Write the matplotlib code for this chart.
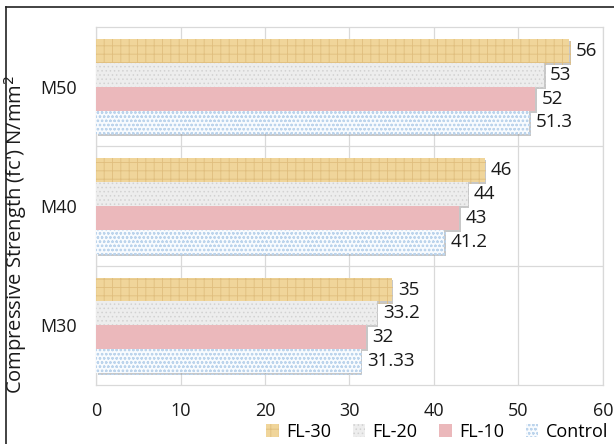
import matplotlib
matplotlib.use("Agg")
import matplotlib.pyplot as plt
import matplotlib.patheffects as pe
from matplotlib.lines import Line2D
import numpy as np

FONT = "Open Sans"

categories = ["M30", "M40", "M50"]
series = ["FL-30", "FL-20", "FL-10", "Control"]
fl30 = [35, 46, 56]
fl20 = [33.2, 44, 53]
fl10 = [32, 43, 52]
control = [31.33, 41.2, 51.3]
label_text = {
    "FL-30": ["35", "46", "56"],
    "FL-20": ["33.2", "44", "53"],
    "FL-10": ["32", "43", "52"],
    "Control": ["31.33", "41.2", "51.3"],
}
xticks = [0, 10, 20, 30, 40, 50, 60]

STYLE = {
    "FL-30": dict(face="#F0D59A", hatch_color="#E0BE7E", hatch="++"),
    "FL-20": dict(face="#EDEDED", hatch_color="#D2D2D2", hatch="...."),
    "FL-10": dict(face="#EBB8BB", hatch_color="#E3AAAE", hatch=None),
    "Control": dict(face="#F8FBFE", hatch_color="#BCD4EC", hatch="oooo"),
}
OFFSETS = {"FL-30": 0.3, "FL-20": 0.1, "FL-10": -0.1, "Control": -0.3}
GRID = "#D9D9D9"
INK = "#1A1A1A"


def main():
    plt.rcParams["font.family"] = FONT
    plt.rcParams["hatch.linewidth"] = 0.6

    fig = plt.figure(figsize=(6.14, 4.44), dpi=100)
    ax = fig.add_axes([96 / 614, 1 - 385 / 444, (603 - 96) / 614, (385 - 27) / 444])

    values = {"FL-30": fl30, "FL-20": fl20, "FL-10": fl10, "Control": control}
    y = np.arange(len(categories))
    shadow = [pe.SimplePatchShadow(offset=(1.2, -1.5), shadow_rgbFace="#9A9A9A", alpha=0.55), pe.Normal()]

    for name in series:
        st = STYLE[name]
        bars = ax.barh(
            y + OFFSETS[name],
            values[name],
            height=0.2,
            color=st["face"],
            edgecolor=st["hatch_color"],
            linewidth=0,
            hatch=st["hatch"],
            label=name,
            zorder=3,
        )
        for b in bars:
            b.set_path_effects(shadow)
        ax.bar_label(bars, labels=label_text[name], padding=4.5, fontsize=13.5, color=INK)

    ax.set_xlim(0, 60)
    ax.set_ylim(-0.5, 2.5)
    ax.set_xticks(xticks)
    ax.set_yticks(y)
    ax.set_yticklabels(categories)
    ax.tick_params(axis="both", length=0, labelsize=13, colors=INK)
    ax.tick_params(axis="x", pad=12)
    ax.tick_params(axis="y", pad=14)

    ax.grid(axis="x", color=GRID, linewidth=0.9, zorder=0)
    for b in [0.5, 1.5]:
        ax.axhline(b, color=GRID, linewidth=0.9, zorder=0)
    for s in ax.spines.values():
        s.set_color(GRID)
        s.set_linewidth(0.9)

    ax.set_ylabel("Compressive Strength (fc') N/mm$^2$", fontsize=14.5, color=INK)
    ax.yaxis.set_label_coords(-0.132, 0.42)

    handles, labels = ax.get_legend_handles_labels()
    leg = fig.legend(
        handles, labels, ncol=4, loc="center right", bbox_to_anchor=(608 / 614, 1 - 432 / 444),
        frameon=False, fontsize=13, handlelength=0.7, handleheight=0.7,
        handletextpad=0.4, columnspacing=1.2, borderaxespad=0, borderpad=0,
    )
    for h in leg.legend_handles:
        h.set_path_effects([])

    # page border, as cropped in the source
    fig.add_artist(Line2D([6 / 614, 1], [1 - 7 / 444] * 2, color="#222222", linewidth=1.2))
    fig.add_artist(Line2D([6 / 614] * 2, [0, 1 - 7 / 444], color="#222222", linewidth=1.2))

    fig.savefig("out.png", dpi=100)
    plt.close(fig)


if __name__ == "__main__":
    main()
